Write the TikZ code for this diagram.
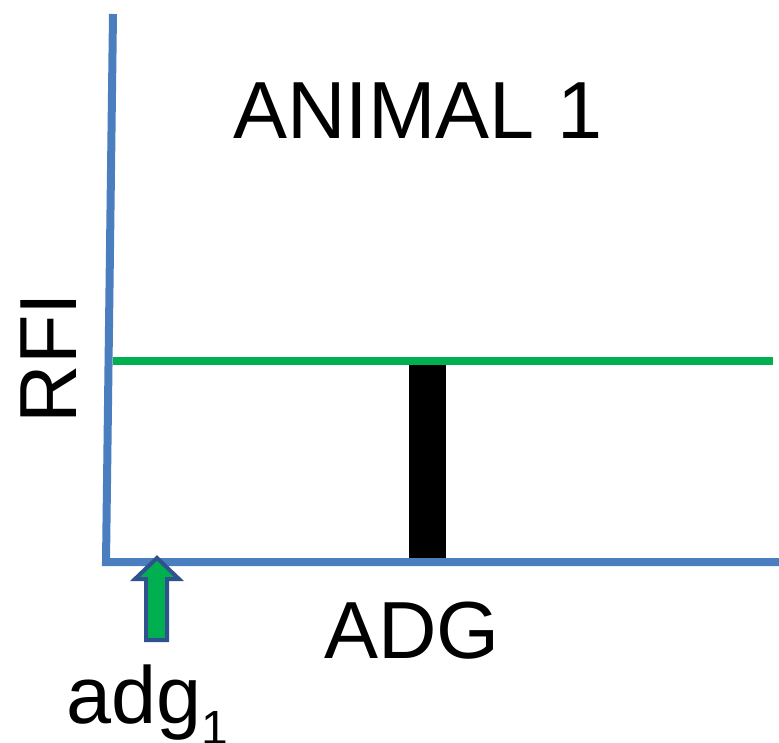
\documentclass[tikz,border=0pt]{standalone}
\usepackage{fontspec}
\setmainfont{Liberation Sans}
\definecolor{axisblue}{RGB}{74,126,190}
\definecolor{linegreen}{RGB}{0,176,80}
\definecolor{arrowedge}{RGB}{47,82,143}
\tikzset{
  axisline/.style={draw=axisblue, line width=8pt},
  greenline/.style={draw=linegreen, line width=8pt},
  bigtext/.style={inner sep=0pt, font=\fontsize{81}{92}\selectfont},
  uparrow/.style={fill=linegreen, draw=arrowedge, line width=4pt, line join=miter}
}
\begin{document}
\begin{tikzpicture}[x=1pt,y=-1pt]
\useasboundingbox (0,0) rectangle (779,742);
% bar
\fill[black] (409,361) rectangle (446,562);
% green line
\coordinate (gl) at (113,361);
\coordinate (gr) at (773,361);
\draw[greenline] (gl) -- (gr);
% axes
\coordinate (ytop) at (113,14);
\coordinate (origin) at (106,562);
\coordinate (xend) at (779,562);
\draw[axisline] (ytop) -- (origin) -- (xend);
% arrow
\draw[uparrow] (157,558) -- (179,579) -- (167,579) -- (167,640) -- (146,640) -- (146,579) -- (135,579) -- cycle;
% texts
\node[bigtext] (title) at (418,111) {ANIMAL 1};
\node[bigtext, rotate=90] (rfi) at (49,358) {RFI};
\node[bigtext] (adg) at (412,631) {ADG};
\node[bigtext, anchor=base west] (adg1) at (66,723) {adg\raisebox{-21pt}{\fontsize{48}{52}\selectfont 1}};
\end{tikzpicture}
\end{document}
